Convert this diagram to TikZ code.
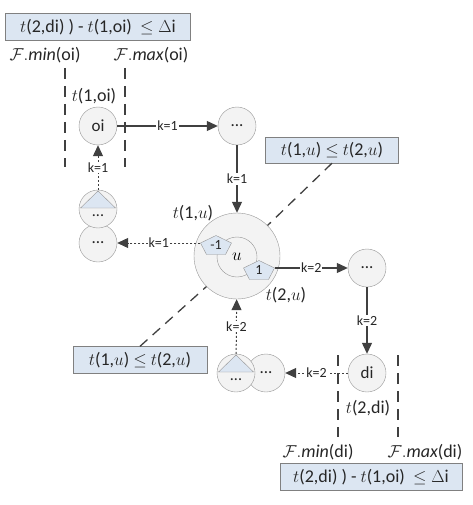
\documentclass[tikz,border=0pt]{standalone}
\usepackage{fontspec}
\setmainfont{Carlito}
\usetikzlibrary{arrows.meta, calc}

\definecolor{boxblue}{RGB}{220,230,242}
\definecolor{linegray}{RGB}{64,64,64}
\definecolor{rimgray}{RGB}{150,150,150}
\definecolor{ballfill}{RGB}{243,243,243}
\newcommand{\lblfont}{\fontsize{18}{20}\selectfont}
\newcommand{\pentshape}[1]{\draw[pentline] ($(#1)+(0,-9.5)$) -- ($(#1)+(15.5,-2)$) -- ($(#1)+(9.5,9.5)$) -- ($(#1)+(-9.5,9.5)$) -- ($(#1)+(-15.5,-2)$) -- cycle;}
\newcommand{\tricap}[1]{\draw[pentline] ($(#1.center)+(0,-18)$) -- ($(#1.center)+(-17.5,-1)$) -- ($(#1.center)+(17.5,-1)$) -- cycle;
  \node[dots] at ($(#1.center)+(0,7)$) {...};}

\begin{document}
\begin{tikzpicture}[
  x=1pt, y=-1pt,
  ball/.style={circle, draw=rimgray, fill=ballfill, minimum size=38pt, inner sep=0pt, text=black!85, font=\fontsize{17}{17}\selectfont},
  dots/.style={inner sep=0pt, text=black!85, font=\fontsize{16}{16}\selectfont},
  pent/.style={minimum width=31pt, minimum height=19pt, inner sep=0pt, text=black!85, font=\fontsize{14}{14}\selectfont},
  pentline/.style={draw=rimgray, fill=boxblue},
  cbox/.style={rectangle, draw=gray, fill=boxblue, minimum height=27pt, inner sep=0pt, text=black!85, font=\lblfont},
  lbl/.style={inner sep=0pt, text=black!85, font=\lblfont},
  klbl/.style={fill=white, inner sep=1pt, text=black!85, font=\fontsize{14}{14}\selectfont},
  arrow/.style={-{Triangle[length=11pt, width=10pt]}, line width=1.2pt, draw=linegray},
  dotarrow/.style={-{Triangle[length=11pt, width=10pt]}, line width=1pt, draw=linegray, dash pattern=on 2pt off 2pt},
  window/.style={draw=linegray, line width=1.3pt, dash pattern=on 11pt off 7pt},
  linkline/.style={draw=linegray, line width=1.3pt, dash pattern=on 10pt off 7pt}
]
\useasboundingbox (0,0) rectangle (472,505);

% Constraint boxes and window labels
\node[cbox, minimum width=185pt] (topbox) at (98,27) {$t$(2,di) ) - $t$(1,oi) \ $\le\Delta$i};
\node[cbox, minimum width=182pt] (botbox) at (371,477) {$t$(2,di) ) - $t$(1,oi) \ $\le\Delta$i};
\node[cbox, minimum width=133pt, minimum height=26pt] (rbox) at (332,150) {$t$(1,$u$) $\le$ $t$(2,$u$)};
\node[cbox, minimum width=134pt] (lbox) at (140,360) {$t$(1,$u$) $\le$ $t$(2,$u$)};
\node[lbl] (fminoi) at (45,55) {$\mathcal{F}.\mathit{min}$(oi)};
\node[lbl] (fmaxoi) at (151,55) {$\mathcal{F}.\mathit{max}$(oi)};
\node[lbl] (fmindi) at (318,452) {$\mathcal{F}.\mathit{min}$(di)};
\node[lbl] (fmaxdi) at (425,452) {$\mathcal{F}.\mathit{max}$(di)};

% Time windows
\coordinate (oiminT) at (65,68);   \coordinate (oiminB) at (65,167);
\coordinate (oimaxT) at (125,68);  \coordinate (oimaxB) at (125,167);
\coordinate (diminT) at (338,355); \coordinate (diminB) at (338,437);
\coordinate (dimaxT) at (398,355); \coordinate (dimaxB) at (398,437);
\draw[window] (oiminT) -- (oiminB);
\draw[window] (oimaxT) -- (oimaxB);
\draw[window] (diminT) -- (diminB);
\draw[window] (dimaxT) -- (dimaxB);
\node[lbl] (toi) at (94,96) {$t$(1,oi)};
\node[lbl] (tdi) at (368,408) {$t$(2,di)};

% Central node u
\node[circle, draw=rimgray, fill=ballfill, minimum size=86pt] (big) at (237,256) {};
\node[circle, draw=rimgray, fill=ballfill, minimum size=40pt, inner sep=0pt, font=\lblfont] (uin) at (237,257) {$u$};
\coordinate (pmc) at (216,245);
\coordinate (ppc) at (259,270);
\pentshape{pmc}
\pentshape{ppc}
\node[pent] (pm) at (pmc) {-1};
\node[pent] (pp) at (ppc) {1};
\node[lbl] (t1u) at (193,213) {$t$(1,$u$)};
\node[lbl] (t2u) at (286,295) {$t$(2,$u$)};

% Other nodes
\node[ball] (oi) at (98,126) {oi};
\node[ball] (td) at (237,126) {...};
\node[ball] (ld) at (98,243) {...};
\node[ball] (lt) at (98,209) {};
\tricap{lt}
\node[ball] (rd) at (367,268) {...};
\node[ball] (di) at (367,373) {di};
\node[ball] (nb) at (266,373) {...};
\node[ball] (tb) at (236,373) {};
\tricap{tb}

% Links boxes -> u
\draw[linkline] (rbox.south) -- (big.45);
\draw[linkline] (lbox.north) -- (big.225);

% Arrows k=1
\draw[arrow] (oi) -- node[klbl] {k=1} (td);
\draw[arrow] (td) -- node[klbl] {k=1} (big);
\draw[dotarrow] ($(pm.west)+(0,-2)$) -- node[klbl] {k=1} (ld);
\draw[dotarrow] (lt) -- node[klbl] {k=1} (oi);

% Arrows k=2
\draw[arrow] ($(pp.east)+(0,-2)$) -- node[klbl] {k=2} (rd);
\draw[arrow] (rd) -- node[klbl] {k=2} (di);
\draw[dotarrow] (di) -- node[klbl] {k=2} (nb);
\draw[dotarrow] (tb) -- node[klbl] {k=2} (big);

\end{tikzpicture}
\end{document}
